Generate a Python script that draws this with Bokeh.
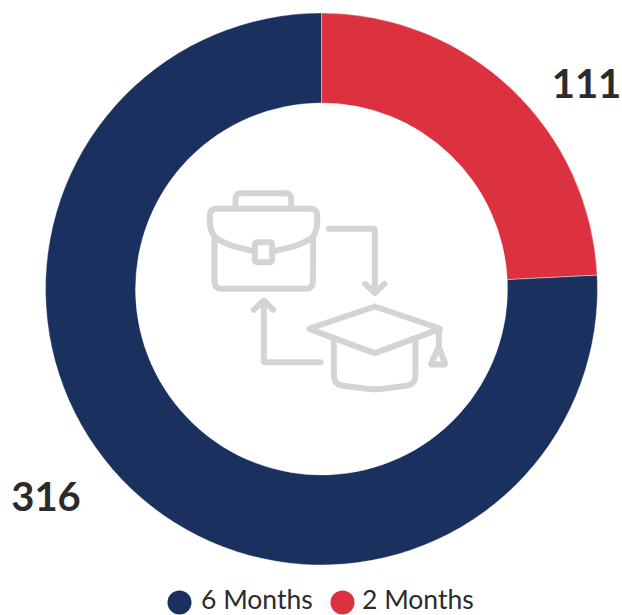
import math
from bokeh.plotting import figure
from bokeh.models import ColumnDataSource, Range1d
from bokeh.core.properties import value
from bokeh.embed import file_html
from bokeh.resources import INLINE

categories = ["6 Months", "2 Months"]
colors = ["#1a315f", "#dc3240"]
counts = [316, 111]
# slice shares as drawn in the picture (percent of the ring, clockwise from 12 o'clock)
drawn_shares = {"2 Months": 24.2, "6 Months": 75.8}

ICON = "#d4d4d4"
TEXT = "#2b2b2b"

W, H = 622, 615
p = figure(width=W, height=H, output_backend="svg", toolbar_location=None,
           x_range=Range1d(0, W), y_range=Range1d(H, 0),
           min_border=0, outline_line_color=None, background_fill_color="white",
           border_fill_color="white")
p.axis.visible = False
p.grid.visible = False

# ring: red first, clockwise from the top
order = ["2 Months", "6 Months"]
cum = 0
starts, ends, fills = [], [], []
for c in order:
    a0 = math.pi / 2 - cum / 100 * 2 * math.pi
    cum += drawn_shares[c]
    a1 = math.pi / 2 - cum / 100 * 2 * math.pi
    starts.append(a1)
    ends.append(a0)
    fills.append(colors[categories.index(c)])
src = ColumnDataSource(dict(start=starts, end=ends, fill=fills))
p.annular_wedge(x=321, y=288.5, inner_radius=186, outer_radius=276, start_angle="start",
                end_angle="end", fill_color="fill", line_color="white", line_width=0.4,
                source=src, direction="anticlock")

# icon, traced in reference crop coordinates
def zx(v):
    return [190 + a / 3 for a in v]
def zy(v):
    return [180 + a / 3 for a in v]

def rounded(pts, r=14, n=5):
    """Round the inner corners of a polyline."""
    xs, ys = [pts[0][0]], [pts[0][1]]
    for i in range(1, len(pts) - 1):
        (x0, y0), (x1, y1), (x2, y2) = pts[i - 1], pts[i], pts[i + 1]
        d1 = math.hypot(x0 - x1, y0 - y1)
        d2 = math.hypot(x2 - x1, y2 - y1)
        rr = min(r, d1 / 2, d2 / 2)
        ax, ay = x1 + (x0 - x1) * rr / d1, y1 + (y0 - y1) * rr / d1
        bx, by = x1 + (x2 - x1) * rr / d2, y1 + (y2 - y1) * rr / d2
        for k in range(n + 1):
            t = k / n
            xs.append((1 - t) ** 2 * ax + 2 * t * (1 - t) * x1 + t * t * bx)
            ys.append((1 - t) ** 2 * ay + 2 * t * (1 - t) * y1 + t * t * by)
    xs.append(pts[-1][0])
    ys.append(pts[-1][1])
    return zx(xs), zy(ys)

paths = [
    rounded([(135, 78), (135, 38), (302, 38), (302, 78)], 18),
    rounded([(190, 212), (120, 195), (72, 172), (58, 140), (58, 85), (380, 85), (380, 140), (368, 172), (320, 195), (250, 212)], 20),
    rounded([(72, 172), (72, 325), (367, 325), (368, 172)], 22),
    rounded([(219, 185), (245, 185), (245, 245), (193, 245), (193, 185), (219, 185)], 8),
    rounded([(415, 145), (553, 145), (553, 335)], 2),
    rounded([(524, 310), (553, 338), (582, 310)], 2),
    rounded([(390, 545), (220, 545), (220, 365)], 2),
    rounded([(190, 388), (220, 360), (248, 388)], 2),
    rounded([(553, 378), (750, 445), (553, 518), (355, 445), (553, 378)], 3),
    rounded([(430, 480), (430, 612), (553, 628), (675, 612), (675, 480)], 28),
    rounded([(745, 445), (745, 500)], 2),
    rounded([(745, 500), (765, 552), (720, 552), (745, 500)], 6),
]
p.multi_line([a[0] for a in paths], [a[1] for a in paths], line_color=ICON, line_width=6,
             line_cap="round", line_join="round")

# value labels
p.text(x=[45.5, 586], y=[496, 83], text=[str(counts[0]), str(counts[1])], text_font=value("Lato"),
       text_font_size="40px", text_font_style="bold", text_color=TEXT,
       text_align="center", text_baseline="middle")

# legend
p.scatter(x=[179, 342], y=[602, 602], size=24, marker="circle", fill_color=colors, line_color=None)
p.text(x=[200.5, 361.5], y=[598.5, 598.5], text=categories, text_font=value("Lato"), text_font_size="26.5px",
       text_color=TEXT, text_align="left", text_baseline="middle")

open("out.html", "w").write(file_html(p, INLINE))
